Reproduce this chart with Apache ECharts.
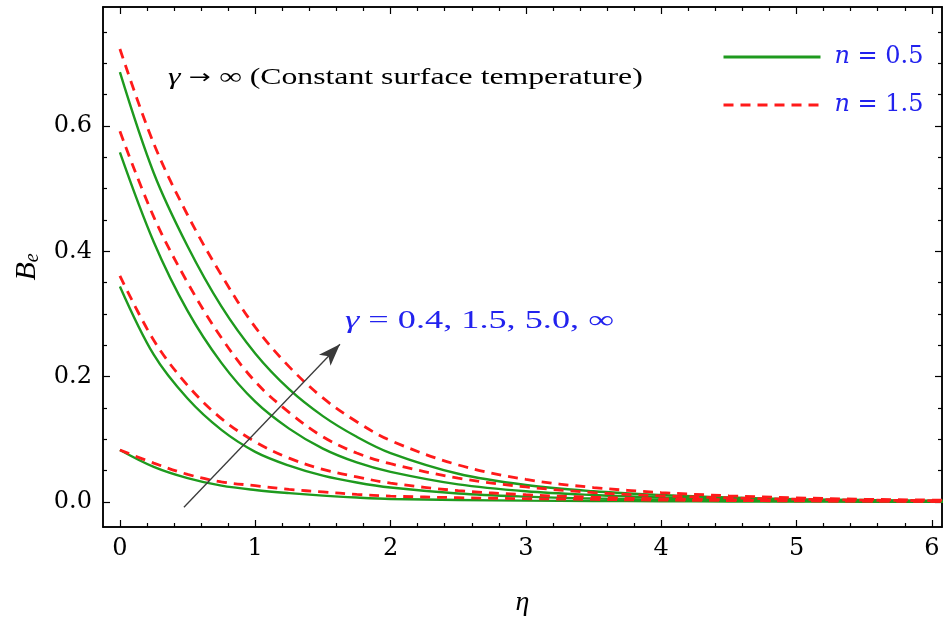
<!DOCTYPE html>
<html><head><meta charset="utf-8">
<script src="https://cdn.jsdelivr.net/npm/echarts@6/dist/echarts.min.js"></script>
<style>html,body{margin:0;padding:0;background:#fff}#c{width:943px;height:622px}</style>
</head><body><div id="c"></div>
<script>
// ---- data ----
const eta = [0, 0.25, 0.5, 0.75, 1, 1.25, 1.5, 1.75, 2, 2.5, 3, 3.5, 4, 4.5, 5, 5.5, 6, 6.2];
// n = 0.5 (green solid), gamma = 0.4, 1.5, 5.0, inf
const green_g04 = [0.083, 0.056, 0.038, 0.026, 0.019, 0.014, 0.010, 0.007, 0.0048, 0.0031, 0.0021, 0.0015, 0.0010, 0.0007, 0.0005, 0.0004, 0.0003, 0.0003];
const green_g15 = [0.344, 0.235, 0.165, 0.115, 0.080, 0.058, 0.042, 0.031, 0.023, 0.0135, 0.0085, 0.0055, 0.0036, 0.0024, 0.0016, 0.0011, 0.0008, 0.0007];
const green_g50 = [0.558, 0.415, 0.305, 0.222, 0.160, 0.117, 0.085, 0.063, 0.048, 0.028, 0.017, 0.011, 0.007, 0.0045, 0.003, 0.002, 0.0013, 0.0011];
const green_ginf = [0.686, 0.525, 0.408, 0.312, 0.237, 0.180, 0.137, 0.104, 0.078, 0.045, 0.027, 0.017, 0.011, 0.007, 0.0045, 0.003, 0.002, 0.0017];
// n = 1.5 (red dashed)
const red_g04 = [0.083, 0.062, 0.044, 0.032, 0.026, 0.020, 0.016, 0.012, 0.0093, 0.0068, 0.0052, 0.0040, 0.0030, 0.0023, 0.0017, 0.0013, 0.0010, 0.0009];
const red_g15 = [0.361, 0.258, 0.186, 0.133, 0.096, 0.070, 0.052, 0.040, 0.030, 0.018, 0.0115, 0.0075, 0.005, 0.0034, 0.0023, 0.0016, 0.0011, 0.001];
const red_g50 = [0.5915, 0.455, 0.350, 0.262, 0.192, 0.143, 0.104, 0.078, 0.061, 0.038, 0.024, 0.015, 0.0098, 0.0065, 0.0043, 0.0029, 0.002, 0.0017];
const red_ginf = [0.723, 0.572, 0.458, 0.362, 0.279, 0.216, 0.166, 0.128, 0.098, 0.059, 0.036, 0.023, 0.015, 0.0098, 0.0065, 0.0043, 0.003, 0.0026];

const legendNames = ['n = 0.5', 'n = 1.5'];
const xTickValues = [0, 1, 2, 3, 4, 5, 6];
const xTickLabels = ['0', '1', '2', '3', '4', '5', '6'];
const xMinorValues = [0.2, 0.4, 0.6, 0.8, 1.2, 1.4, 1.6, 1.8, 2.2, 2.4, 2.6, 2.8, 3.2, 3.4, 3.6, 3.8, 4.2, 4.4, 4.6, 4.8, 5.2, 5.4, 5.6, 5.8];
const yTickValues = [0, 0.2, 0.4, 0.6];
const yTickLabels = ['0.0', '0.2', '0.4', '0.6'];
const yMinorValues = [0.05, 0.1, 0.15, 0.25, 0.3, 0.35, 0.45, 0.5, 0.55, 0.65, 0.7, 0.75];
const arrowStart = [0.473, -0.0085];
const arrowEnd = [1.626, 0.2516];
const titleParts = ['γ', ' → ', '∞ (Constant surface temperature)'];
const gammaText = 'γ = 0.4, 1.5, 5.0, ∞';

// ---- chart ----
const X_MIN = -0.125, X_MAX = 6.075, Y_MIN = -0.04, Y_MAX = 0.79;
const GREEN = '#1e9a1e', RED = '#ff1a1a', BLUE = '#2222ee';
const pick = (vals, labels) => v => { const i = vals.findIndex(t => Math.abs(t - v) < 1e-9); return i >= 0 ? labels[i] : ''; };

function xAx(pos, major, labels) {
  return {
    type: 'value', position: pos, min: X_MIN, max: X_MAX,
    axisLine: { show: true, onZero: false, lineStyle: { color: '#000', width: 1.5 } },
    axisTick: { show: true, inside: true, length: major ? 7 : 4, customValues: major ? xTickValues : xMinorValues, lineStyle: { color: '#000', width: 1.2 } },
    axisLabel: labels ? { show: true, customValues: xTickValues, formatter: pick(xTickValues, xTickLabels), margin: 10, fontFamily: 'DejaVu Serif', fontSize: 24, color: '#000' } : { show: false },
    splitLine: { show: false }
  };
}
function yAx(pos, major, labels) {
  return {
    type: 'value', position: pos, min: Y_MIN, max: Y_MAX,
    axisLine: { show: true, onZero: false, lineStyle: { color: '#000', width: 1.5 } },
    axisTick: { show: true, inside: true, length: major ? 7 : 4, customValues: major ? yTickValues : yMinorValues, lineStyle: { color: '#000', width: 1.2 } },
    axisLabel: labels ? { show: true, customValues: yTickValues, formatter: pick(yTickValues, yTickLabels), margin: 11, fontFamily: 'DejaVu Serif', fontSize: 24, color: '#000' } : { show: false },
    splitLine: { show: false }
  };
}

const x0 = xAx('bottom', true, true);
Object.assign(x0, { name: 'η', nameLocation: 'middle', nameGap: 62, nameTextStyle: { fontFamily: 'Liberation Serif', fontStyle: 'italic', fontSize: 28, color: '#000' } });
const y0 = yAx('left', true, true);
Object.assign(y0, {
  name: '{B|B}{e|e}', nameLocation: 'middle', nameGap: 59, nameRotate: 90,
  nameTextStyle: { rich: {
    B: { fontFamily: 'Liberation Serif', fontStyle: 'italic', fontSize: 30, color: '#000' },
    e: { fontFamily: 'Liberation Serif', fontStyle: 'italic', fontSize: 20, color: '#000', verticalAlign: 'bottom', padding: [12, 0, 0, 0] } } }
});

const toPts = arr => eta.map((x, i) => [x, arr[i]]);
function line(name, arr, dashed) {
  return {
    type: 'line', name: name, data: toPts(arr), xAxisIndex: 0, yAxisIndex: 0,
    showSymbol: false, symbol: 'none', smooth: 0.35, clip: true,
    lineStyle: dashed ? { color: RED, width: 2.8, type: [10, 7] } : { color: GREEN, width: 2.4, type: 'solid' },
    itemStyle: { color: dashed ? RED : GREEN },
    emphasis: { disabled: true }, silent: true
  };
}

const series = [
  line(legendNames[0], green_g04, false),
  line(legendNames[0], green_g15, false),
  line(legendNames[0], green_g50, false),
  line(legendNames[0], green_ginf, false),
  line(legendNames[1], red_g04, true),
  line(legendNames[1], red_g15, true),
  line(legendNames[1], red_g50, true),
  line(legendNames[1], red_ginf, true),
  {
    type: 'line', name: 'arrow', data: [], xAxisIndex: 0, yAxisIndex: 0, silent: true,
    markLine: {
      silent: true, symbol: ['none', 'arrow'], symbolSize: [12, 22], label: { show: false },
      lineStyle: { color: '#3a3a3a', width: 1.3, type: 'solid' },
      emphasis: { disabled: true },
      data: [[{ coord: arrowStart }, { coord: arrowEnd }]]
    }
  }
];

const chart = echarts.init(document.getElementById('c'), null, { renderer: 'canvas' });
chart.setOption({
  animation: false,
  backgroundColor: '#fff',
  grid: { left: 103, top: 7, width: 839, height: 520, containLabel: false },
  xAxis: [x0, xAx('bottom', false, false), xAx('top', true, false), xAx('top', false, false)],
  yAxis: [y0, yAx('left', false, false), yAx('right', true, false), yAx('right', false, false)],
  legend: {
    data: legendNames, orient: 'vertical', left: 722, top: 45, padding: 0, itemWidth: 97, itemHeight: 14, itemGap: 24,
    selectedMode: false,
    itemStyle: { opacity: 0, borderWidth: 0 },
    lineStyle: { width: 3 },
    formatter: name => '{i|n}{r|' + name.slice(1) + '}',
    textStyle: { color: BLUE, padding: [0, 0, 0, 9], rich: {
      i: { fontFamily: 'DejaVu Serif', fontStyle: 'italic', fontSize: 24, color: BLUE },
      r: { fontFamily: 'DejaVu Serif', fontSize: 24, color: BLUE } } }
  },
  graphic: [
    { type: 'text', x: 168, y: 78, scaleX: 1.38, silent: true,
      style: { text: '{i|' + titleParts[0] + '}{a|' + titleParts[1] + '}{r|' + titleParts[2] + '}', verticalAlign: 'middle',
        rich: { i: { fontFamily: 'Liberation Serif', fontStyle: 'italic', fontSize: 23, fill: '#000' },
                a: { fontFamily: 'DejaVu Sans', fontSize: 19, fill: '#000' },
                r: { fontFamily: 'Liberation Serif', fontSize: 23, fill: '#000' } } } },
    { type: 'text', x: 345, y: 321, scaleX: 1.45, silent: true,
      style: { text: '{i|' + gammaText.slice(0, 1) + '}{r|' + gammaText.slice(1) + '}', verticalAlign: 'middle',
        rich: { i: { fontFamily: 'Liberation Serif', fontStyle: 'italic', fontSize: 25, fill: BLUE },
                r: { fontFamily: 'Liberation Serif', fontSize: 25, fill: BLUE } } } }
  ],
  series: series
});
</script></body></html>
